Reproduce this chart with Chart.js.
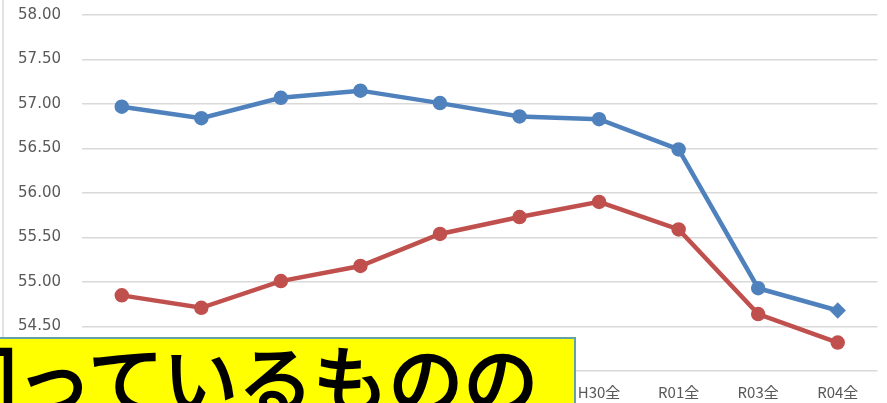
<!DOCTYPE html>
<html lang="ja">
<head>
    <meta charset="UTF-8">
    <title>推移グラフ</title>
    <script src="https://cdn.jsdelivr.net/npm/chart.js"></script>
    <style>
        html, body { margin: 0; padding: 0; background: #fff; overflow: hidden; }
        #wrap { position: relative; width: 887px; height: 403px; }
        #note {
            position: absolute; left: -20px; top: 337px; width: 596px; height: 90px;
            background: #ffff00; border: 2px solid #62a2a6; box-sizing: border-box;
            overflow: hidden; white-space: nowrap;
            font-family: "Noto Sans CJK JP", sans-serif; font-weight: normal;
            font-size: 75px; line-height: 75px; color: #000;
            -webkit-text-stroke: 2.5px #000;
        }
        #note span { position: absolute; left: -40px; top: 0px; }
    </style>
</head>
<body>
<div id="wrap">
    <canvas id="lineChart" width="887" height="403"></canvas>
    <div id="note"><span>回っているものの</span></div>
</div>
<script>
    // data
    const categories = ['H24全', 'H25全', 'H26全', 'H27全', 'H28全', 'H29全', 'H30全', 'R01全', 'R03全', 'R04全'];
    const blueValues = [56.97, 56.84, 57.07, 57.15, 57.01, 56.86, 56.83, 56.49, 54.93, 54.68];
    const redValues = [54.85, 54.71, 55.01, 55.18, 55.54, 55.73, 55.90, 55.59, 54.64, 54.32];
    const yMin = 54.0;
    const yMax = 58.0;
    const yStep = 0.5;

    // thin frame line on the left edge
    const frameLine = {
        id: 'frameLine',
        beforeDraw(chart) {
            const c = chart.ctx;
            c.save();
            c.strokeStyle = '#d9d9d9';
            c.lineWidth = 1.5;
            c.beginPath();
            c.moveTo(3, 0);
            c.lineTo(3, chart.height);
            c.stroke();
            c.restore();
        }
    };

    const ctx = document.getElementById('lineChart').getContext('2d');
    new Chart(ctx, {
        type: 'line',
        data: {
            labels: categories,
            datasets: [{
                label: 'blue',
                data: blueValues,
                borderColor: '#4f81bd',
                backgroundColor: '#4f81bd',
                borderWidth: 4.5,
                pointRadius: 5,
                pointStyle: ['circle', 'circle', 'circle', 'circle', 'circle', 'circle', 'circle', 'circle', 'circle', 'rectRot'],
                tension: 0
            }, {
                label: 'red',
                data: redValues,
                borderColor: '#c0504d',
                backgroundColor: '#c0504d',
                borderWidth: 4.5,
                pointRadius: 5,
                tension: 0
            }]
        },
        options: {
            responsive: false,
            animation: false,
            layout: { padding: { top: 15, right: 3, left: 0, bottom: 0 } },
            plugins: {
                legend: { display: false },
                tooltip: { enabled: false }
            },
            scales: {
                x: {
                    offset: true,
                    grid: { display: false, drawTicks: false },
                    border: { display: false },
                    ticks: {
                        color: '#595959',
                        padding: 12,
                        maxRotation: 0,
                        autoSkip: false,
                        font: { family: '"Noto Sans CJK JP", sans-serif', size: 15 }
                    },
                    afterFit(scale) { scale.height = 32; }
                },
                y: {
                    min: yMin,
                    max: yMax,
                    grid: { color: '#d9d9d9', lineWidth: 1.5, drawTicks: true, tickLength: 21, tickColor: 'rgba(0,0,0,0)' },
                    border: { display: false },
                    ticks: {
                        stepSize: yStep,
                        color: '#595959',
                        padding: 0,
                        callback: v => v.toFixed(2),
                        font: { family: '"DejaVu Sans", sans-serif', size: 15 }
                    },
                    afterFit(scale) { scale.width = 82; }
                }
            }
        },
        plugins: [frameLine]
    });
</script>
</body>
</html>
